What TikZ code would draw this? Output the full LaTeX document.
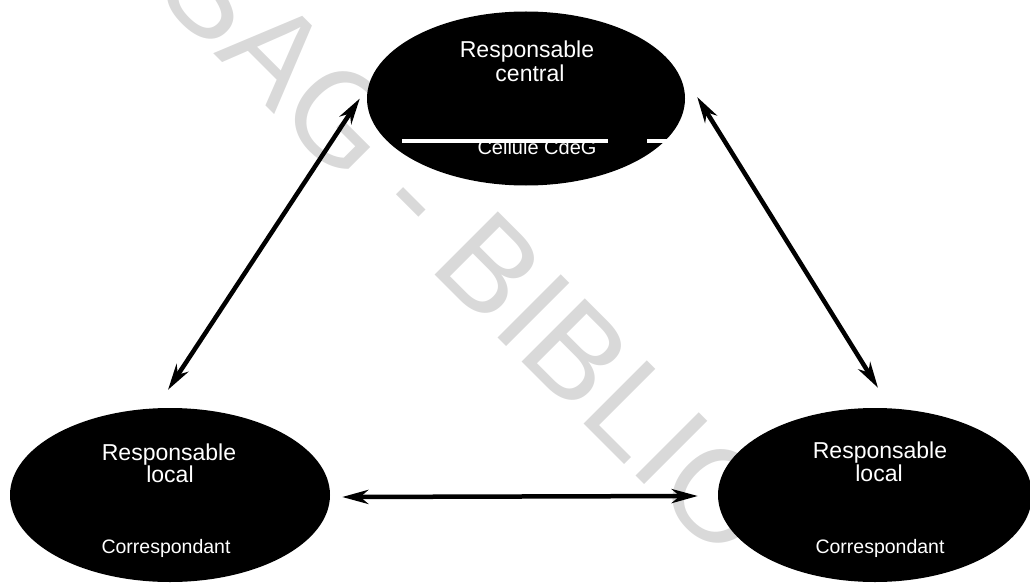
\documentclass[tikz,border=0pt]{standalone}
\usepackage{fontspec}
\setmainfont{Liberation Sans}
\usetikzlibrary{arrows.meta,shapes.geometric}
\definecolor{wmgray}{RGB}{217,217,217}
\begin{document}
\begin{tikzpicture}[x=1pt,y=-1pt,
  role/.style={ellipse,fill=black,draw=none,minimum height=174pt,inner sep=0pt},
  title/.style={text=white,inner sep=0pt,anchor=base,font=\fontsize{23}{23}\selectfont},
  subtitle/.style={text=white,inner sep=0pt,anchor=base,font=\fontsize{19.5}{19.5}\selectfont},
  tip/.style={Stealth[length=26pt,width=14pt,inset=8pt]},
  link/.style={line width=4.5pt,{Stealth[length=26pt,width=14pt,inset=8pt]}-{Stealth[length=26pt,width=14pt,inset=8pt]}},
  streak/.style={white,line width=4pt},
]
\useasboundingbox (0,0) rectangle (1030,583);

% watermark behind everything
\begin{scope}
  \clip (0,0) rectangle (1030,583);
  \node[text=wmgray, rotate=-45, anchor=base west, inner sep=0pt,
        font=\fontsize{130}{130}\selectfont] (wm) at (152,-8) {SAG - BIBLIO};
\end{scope}

% the three roles
\node[role, minimum width=318pt] (central) at (526,98.5) {};
\node[role, minimum width=320pt] (lloc) at (170,495) {};
\node[role, minimum width=314pt] (rloc) at (875,495) {};

% labels of the central role
\node[title] (c1) at (527,58) {Responsable};
\node[title] (c2) at (530,82) {central};
\node[subtitle, font=\fontsize{20}{20}\selectfont] (c3) at (537,154) {Cellule CdeG};
\draw[streak] (402,141) -- (608,141);
\draw[streak] (647,141) -- (668,141);

% labels of the left local role
\node[title] (l1) at (169,460) {Responsable};
\node[title] (l2) at (170,482) {local};
\node[subtitle] (l3) at (166,553) {Correspondant};

% labels of the right local role
\node[title] (r1) at (880,458) {Responsable};
\node[title] (r2) at (879,481) {local};
\node[subtitle] (r3) at (880,553) {Correspondant};

% two-way links
\draw[link] ([xshift=-7pt]central.west) -- ([xshift=-2pt,yshift=18pt]lloc.north);
\draw[link] ([xshift=12pt,yshift=1.5pt]central.east) -- ([xshift=3pt,yshift=20pt]rloc.north);
\draw[link] ([xshift=12pt,yshift=-2pt]lloc.east) -- ([xshift=-20pt,yshift=-1pt]rloc.west);
\end{tikzpicture}
\end{document}
